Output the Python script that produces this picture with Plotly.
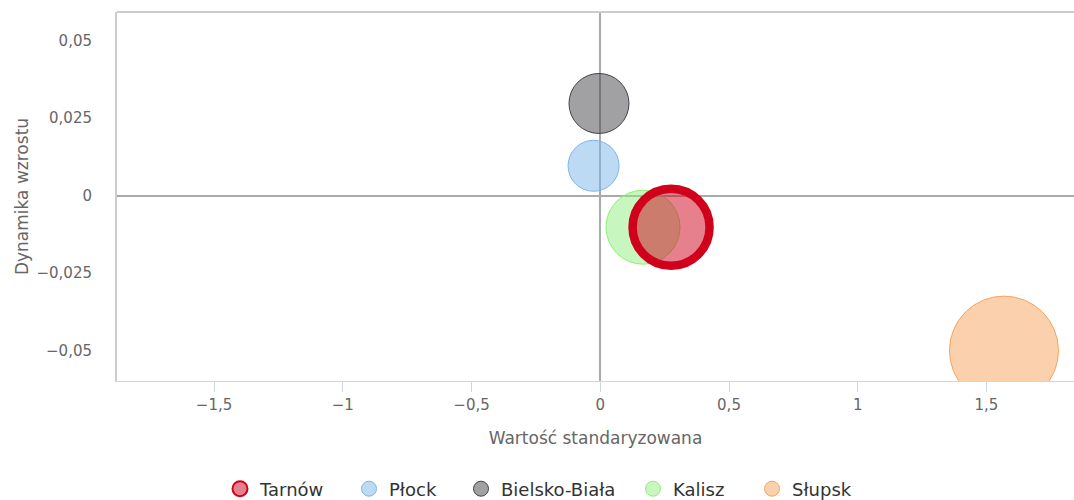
import plotly.graph_objects as go

# ---- data ----
miasta = ["Tarnów", "Płock", "Bielsko-Biała", "Kalisz", "Słupsk"]
wartosc_std = [0.275, -0.026, -0.005, 0.166, 1.568]
dynamika = [-0.0102, 0.0096, 0.0297, -0.0102, -0.050]
bubble_z = [77, 51, 60, 74, 109]

x_ticks = [-1.5, -1, -0.5, 0, 0.5, 1, 1.5]
x_ticktext = ["−1,5", "−1", "−0,5", "0", "0,5", "1", "1,5"]
y_ticks = [0.05, 0.025, 0, -0.025, -0.05]
y_ticktext = ["0,05", "0,025", "0", "−0,025", "−0,05"]

fills = ["rgba(208,2,27,0.5)", "rgba(124,181,236,0.5)", "rgba(67,67,72,0.5)",
         "rgba(144,237,125,0.5)", "rgba(247,163,92,0.5)"]
borders = ["#d0021b", "#7cb5ec", "#434348", "#90ed7d", "#f7a35c"]
border_w = [8.5, 1, 1, 1, 1]
legend_border_w = [2, 1, 1, 1, 1]
# legend marker centres (px, container)
legend_px = [238, 367, 479, 651, 770]

FONT = "DejaVu Sans"
W, H = 1074, 500

fig = go.Figure()
order = [1, 2, 3, 4, 0]  # Tarnów drawn last (on top)
for i in order:
    fig.add_trace(go.Scatter(
        x=[wartosc_std[i]], y=[dynamika[i]], mode="markers",
        name=miasta[i], legendgroup=miasta[i], showlegend=False,
        marker=dict(size=[bubble_z[i]], sizemode="diameter", sizeref=1, opacity=1,
                    color=fills[i], line=dict(color=borders[i], width=border_w[i])),
        cliponaxis=True,
    ))

legend_layouts = {}
for i in range(len(miasta)):
    key = "legend" if i == 0 else f"legend{i + 1}"
    fig.add_trace(go.Scatter(
        x=[None], y=[None], mode="markers", name=miasta[i], legendgroup=miasta[i],
        showlegend=True, legend=key,
        marker=dict(size=15, opacity=1, color=fills[i],
                    line=dict(color=borders[i], width=legend_border_w[i])),
    ))
    legend_layouts[key] = dict(
        xref="container", yref="container",
        x=(legend_px[i] - 18) / W, xanchor="left",
        y=1 - 489 / H, yanchor="middle",
        orientation="h", bgcolor="rgba(0,0,0,0)", borderwidth=0,
        font=dict(family=FONT, size=18, color="#333333"),
    )

fig.update_layout(
    width=W, height=H, autosize=False,
    margin=dict(l=117, r=0, t=12, b=119),
    paper_bgcolor="white", plot_bgcolor="white",
    font=dict(family=FONT, color="#666666", size=15),
    showlegend=True,
    xaxis=dict(
        range=[-1.877, 1.840], tickvals=x_ticks, ticktext=x_ticktext,
        showgrid=False, zeroline=True, zerolinecolor="#aaaaaa", zerolinewidth=2,
        showline=True, linecolor="#ccd6eb", linewidth=1,
        ticks="outside", ticklen=10, tickcolor="#ccd6eb", tickwidth=1,
        tickfont=dict(size=15, color="#666666"),
        title=dict(text="Wartość standaryzowana", font=dict(size=17, color="#666666"), standoff=19),
        fixedrange=True,
    ),
    yaxis=dict(
        range=[-0.0598, 0.0592], tickvals=y_ticks, ticktext=y_ticktext,
        showgrid=False, zeroline=True, zerolinecolor="#aaaaaa", zerolinewidth=2,
        showline=True, linecolor="#cccccc", linewidth=2,
        ticks="", ticklabelstandoff=20,
        tickfont=dict(size=15, color="#666666"),
        title=dict(text="Dynamika wzrostu", font=dict(size=17, color="#666666"), standoff=4),
        fixedrange=True,
    ),
    shapes=[dict(type="line", xref="paper", yref="paper", x0=0, x1=1, y0=1, y1=1,
                 line=dict(color="#cccccc", width=2))],
    **legend_layouts,
)

fig.write_html("out.html", config={"displayModeBar": False},
               post_script="document.body.style.margin='0';document.body.style.overflow='hidden';")
